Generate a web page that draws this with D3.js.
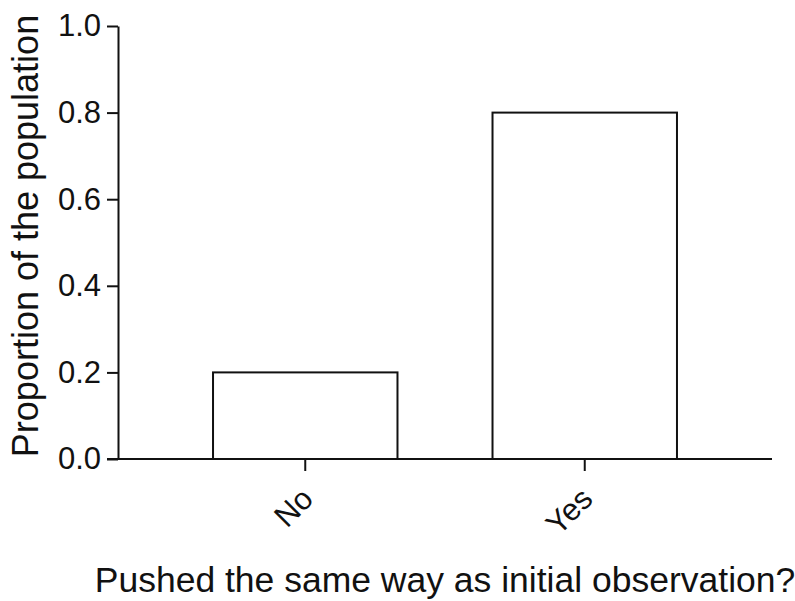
<!DOCTYPE html>
<html>
<head>
<meta charset="utf-8">
<script src="https://cdn.jsdelivr.net/npm/d3@7"></script>
<style>
  body { margin: 0; background: #fff; }
  svg { display: block; font-family: Arial, "Liberation Sans", sans-serif; }
</style>
</head>
<body>
<svg id="grafica" width="795" height="601"></svg>
<script>
// datos
const categorias = ["No", "Yes"];
const proporciones = [0.2, 0.8];
const ticksY = [0, 0.2, 0.4, 0.6, 0.8, 1.0];

const tituloX = "Pushed the same way as initial observation?";
const tituloY = "Proportion of the population";

const svg = d3.select("#grafica");

const izq = 118, der = 772, arriba = 26, abajo = 459;

const x = d3.scaleBand()
  .domain(categorias)
  .range([izq, der])
  .padding(0.34);

const y = d3.scaleLinear()
  .domain([0, 1])
  .range([abajo, arriba]);

// barras
svg.append("g")
  .selectAll("rect")
  .data(categorias)
  .join("rect")
  .attr("x", d => x(d))
  .attr("y", (d, i) => y(proporciones[i]))
  .attr("width", x.bandwidth())
  .attr("height", (d, i) => y(0) - y(proporciones[i]))
  .attr("fill", "#fff")
  .attr("stroke", "#111")
  .attr("stroke-width", 2);

// eje y
const ejeY = svg.append("g")
  .attr("transform", `translate(${izq},0)`)
  .call(d3.axisLeft(y)
    .tickValues(ticksY)
    .tickFormat(d3.format(".1f"))
    .tickSize(11)
    .tickSizeOuter(0)
    .tickPadding(6));

ejeY.select(".domain").attr("stroke", "#111").attr("stroke-width", 2);
ejeY.selectAll(".tick line").attr("stroke", "#111").attr("stroke-width", 2);
ejeY.selectAll(".tick text")
  .attr("font-size", 31)
  .attr("font-family", "Arial, 'Liberation Sans', sans-serif")
  .attr("fill", "#111");

// eje x
const ejeX = svg.append("g")
  .attr("transform", `translate(0,${abajo})`)
  .call(d3.axisBottom(x).tickSize(12).tickSizeOuter(0));

ejeX.select(".domain")
  .attr("d", `M${izq - 11},0H${der}`)
  .attr("stroke", "#111")
  .attr("stroke-width", 2);
ejeX.selectAll(".tick line").attr("stroke", "#111").attr("stroke-width", 2);
ejeX.selectAll(".tick text")
  .attr("font-size", 31)
  .attr("font-family", "Arial, 'Liberation Sans', sans-serif")
  .attr("fill", "#111")
  .attr("text-anchor", "end")
  .attr("x", 0)
  .attr("y", 0)
  .attr("dy", "0.35em")
  .attr("transform", "translate(2,34) rotate(-45)");

// titulos
svg.append("text")
  .attr("x", 445)
  .attr("y", 592)
  .attr("text-anchor", "middle")
  .attr("font-size", 35.5)
  .attr("fill", "#111")
  .text(tituloX);

svg.append("text")
  .attr("transform", "translate(38,236) rotate(-90)")
  .attr("text-anchor", "middle")
  .attr("font-size", 36)
  .attr("fill", "#111")
  .text(tituloY);
</script>
</body>
</html>
